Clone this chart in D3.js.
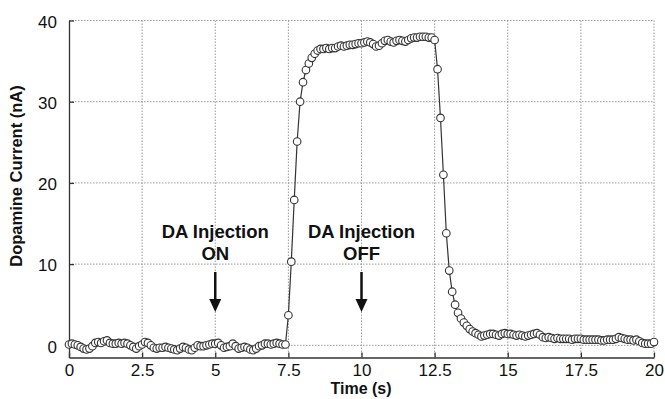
<!DOCTYPE html>
<html>
<head>
<meta charset="utf-8">
<script src="https://cdn.jsdelivr.net/npm/d3@7"></script>
<style>
  body { margin: 0; background: #fff; }
  text { font-family: Arial, "Liberation Sans", sans-serif; }
</style>
</head>
<body>
<script>
// taille de la figure
var larg = 665;
var haut = 399;

// courant dopamine (nA), un point tous les 0.1 s de 0 a 20 s
var sampleStep = 0.1;
var current = [
  0.1, 0.2, 0.1, 0.0, -0.2, -0.4, -0.5, -0.4, -0.1, 0.3,
  0.4, 0.3, 0.5, 0.6, 0.3, 0.2, 0.2, 0.3, 0.2, 0.3,
  0.2, 0.0, -0.2, -0.4, -0.1, 0.1, 0.4, 0.3, 0.0, -0.3,
  -0.4, -0.3, -0.3, -0.2, -0.3, -0.4, -0.5, -0.6, -0.4, -0.2,
  -0.3, -0.5, -0.6, -0.3, 0.0, -0.1, -0.1, 0.0, 0.1, 0.2,
  0.2, 0.3, 0.0, -0.3, -0.2, -0.1, 0.2, -0.1, -0.4, -0.3,
  -0.2, -0.3, -0.5, -0.6, -0.4, -0.1, 0.0, 0.2, 0.2, 0.1,
  0.2, 0.3, 0.2, 0.1, 0.1, 3.7, 10.3, 17.9, 25.1, 30.0,
  32.4, 33.9, 34.7, 35.4, 35.9, 36.3, 36.5, 36.5, 36.6, 36.5,
  36.6, 36.6, 36.8, 36.9, 36.8, 36.9, 37.0, 37.0, 37.1, 37.2,
  37.2, 37.3, 37.4, 37.3, 37.1, 36.8, 36.9, 37.2, 37.5, 37.6,
  37.4, 37.3, 37.5, 37.6, 37.5, 37.4, 37.6, 37.8, 37.9, 37.9,
  38.0, 38.0, 38.0, 37.9, 37.9, 37.6, 34.0, 28.0, 21.0, 13.8,
  9.2, 6.6, 5.0, 4.0, 3.3, 2.8, 2.4, 2.0, 1.7, 1.5,
  1.3, 1.1, 1.2, 1.3, 1.4, 1.4, 1.3, 1.2, 1.4, 1.5,
  1.4, 1.4, 1.3, 1.2, 1.3, 1.2, 1.1, 1.2, 1.3, 1.4,
  1.5, 1.3, 1.0, 0.9, 1.0, 0.9, 0.8, 0.9, 0.8, 0.8,
  0.8, 0.8, 0.7, 0.8, 0.8, 0.8, 0.7, 0.7, 0.7, 0.7,
  0.7, 0.7, 0.6, 0.6, 0.7, 0.7, 0.7, 0.8, 1.0, 0.9,
  0.8, 0.7, 0.7, 0.6, 0.7, 0.5, 0.3, 0.2, 0.2, 0.2,
  0.4
];

var xTicks = [0, 2.5, 5, 7.5, 10, 12.5, 15, 17.5, 20];
var yTicks = [0, 10, 20, 30, 40];

// annotations : position en temps, lignes de texte
var annotTimes = [5, 10];
var annotLabels = [["DA Injection", "ON"], ["DA Injection", "OFF"]];

var data = current.map(function(v, i) { return [i * sampleStep, v]; });

var xScale = d3.scaleLinear()
  .domain([0, 20])
  .range([69, 654]);

var yScale = d3.scaleLinear()
  .domain([-1.5, 40])
  .range([357.5, 20.5]);

var svg = d3.select("body")
  .append("svg")
  .attr("width", larg)
  .attr("height", haut);

// grille pointillee
svg.append("g")
  .selectAll("line")
  .data(xTicks.filter(function(d) { return d > 0; }))
  .enter()
  .append("line")
  .attr("x1", function(d) { return xScale(d); })
  .attr("x2", function(d) { return xScale(d); })
  .attr("y1", yScale(40))
  .attr("y2", yScale(-1.5))
  .attr("stroke", "#999")
  .attr("stroke-width", 1)
  .attr("stroke-dasharray", "1.5,1.5");

svg.append("g")
  .selectAll("line")
  .data(yTicks)
  .enter()
  .append("line")
  .attr("x1", xScale(0))
  .attr("x2", xScale(20))
  .attr("y1", function(d) { return yScale(d); })
  .attr("y2", function(d) { return yScale(d); })
  .attr("stroke", "#999")
  .attr("stroke-width", 1)
  .attr("stroke-dasharray", "1.5,1.5");

// axes
var xAxis = d3.axisBottom(xScale)
  .tickValues(xTicks)
  .tickSizeInner(-5)
  .tickSizeOuter(0)
  .tickPadding(6)
  .tickFormat(function(d) { return d; });

var yAxis = d3.axisLeft(yScale)
  .tickValues(yTicks)
  .tickSizeInner(-5)
  .tickSizeOuter(0)
  .tickPadding(12);

var gx = svg.append("g")
  .attr("transform", "translate(0," + yScale(-1.5) + ")")
  .call(xAxis);

var gy = svg.append("g")
  .attr("transform", "translate(" + xScale(0) + ",0)")
  .call(yAxis);

[gx, gy].forEach(function(g) {
  g.select(".domain").attr("stroke", "#333").attr("stroke-width", 1.3);
  g.selectAll(".tick line").attr("stroke", "#333").attr("stroke-width", 1.3);
  g.selectAll(".tick text")
    .attr("font-size", "17px")
    .attr("font-family", "Arial, 'Liberation Sans', sans-serif")
    .attr("fill", "#111");
});
gy.selectAll(".tick text").attr("dy", "0.4em");

// titres des axes
svg.append("text")
  .text("Time (s)")
  .attr("x", 361)
  .attr("y", 394)
  .attr("text-anchor", "middle")
  .attr("font-size", "16px")
  .attr("font-weight", "bold")
  .attr("fill", "#111");

svg.append("text")
  .text("Dopamine Current (nA)")
  .attr("transform", "translate(22,176) rotate(-90)")
  .attr("text-anchor", "middle")
  .attr("font-size", "16.5px")
  .attr("font-weight", "bold")
  .attr("fill", "#111");

// courbe
var line = d3.line()
  .x(function(d) { return xScale(d[0]); })
  .y(function(d) { return yScale(d[1]); });

svg.append("path")
  .datum(data)
  .attr("d", line)
  .attr("fill", "none")
  .attr("stroke", "#333")
  .attr("stroke-width", 1.2);

svg.selectAll("circle")
  .data(data)
  .enter()
  .append("circle")
  .attr("cx", function(d) { return xScale(d[0]); })
  .attr("cy", function(d) { return yScale(d[1]); })
  .attr("r", 3.8)
  .attr("fill", "#fff")
  .attr("stroke", "#333")
  .attr("stroke-width", 1.1);

// fleches et textes d'injection
var annot = svg.append("g");
annotTimes.forEach(function(t, i) {
  var cx = xScale(t);
  annotLabels[i].forEach(function(s, j) {
    annot.append("text")
      .text(s)
      .attr("x", cx)
      .attr("y", 238 + j * 22)
      .attr("text-anchor", "middle")
      .attr("font-size", "18.5px")
      .attr("font-weight", "bold")
      .attr("fill", "#111");
  });
  annot.append("line")
    .attr("x1", cx).attr("x2", cx)
    .attr("y1", 272).attr("y2", 302)
    .attr("stroke", "#111")
    .attr("stroke-width", 2.5);
  annot.append("path")
    .attr("d", "M" + (cx - 6) + ",299 L" + (cx + 6) + ",299 L" + cx + ",312 Z")
    .attr("fill", "#111");
});
</script>
</body>
</html>
